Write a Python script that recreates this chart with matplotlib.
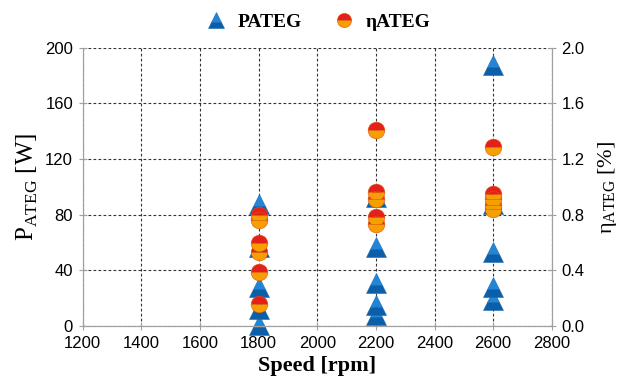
import matplotlib.pyplot as plt

# speed [rpm] and measured values
speed_p = [1800] * 5 + [2200] * 5 + [2600] * 5
p_ateg = [88, 57, 28, 12, 1,
          93, 57, 31, 15, 8,
          188, 88, 53, 28, 19]
speed_eta = [1800] * 6 + [2200] * 5 + [2600] * 5
eta_ateg = [0.80, 0.76, 0.60, 0.53, 0.39, 0.16,
            1.41, 0.96, 0.91, 0.78, 0.73,
            1.29, 0.95, 0.91, 0.87, 0.84]

x_ticks = [1200, 1400, 1600, 1800, 2000, 2200, 2400, 2600, 2800]
p_ticks = [0, 40, 80, 120, 160, 200]
eta_ticks = [0.0, 0.4, 0.8, 1.2, 1.6, 2.0]

serif = "Liberation Serif"
sans = "Liberation Sans"

fig = plt.figure(figsize=(6.27, 3.83), dpi=100)
ax = fig.add_axes([0.132, 0.149, 0.748, 0.726])
ax2 = ax.twinx()

tri = ax.plot(speed_p, p_ateg, ls="none", marker="^", ms=14,
              mfc="#2186d8", mfcalt="#0b5ea8", fillstyle="top",
              mec="#1a6cb5", mew=0.4, clip_on=False, zorder=3)[0]
circ = ax2.plot(speed_eta, eta_ateg, ls="none", marker="o", ms=12,
                mfc="#e3201a", mfcalt="#f5a000", fillstyle="top",
                mec="#e05010", mew=0.4, clip_on=False, zorder=4)[0]

ax.set_xlim(1200, 2800)
ax.set_ylim(0, 200)
ax2.set_ylim(0, 2.0)
ax.set_xticks(x_ticks)
ax.set_yticks(p_ticks)
ax2.set_yticks(eta_ticks)
ax2.set_yticklabels([f"{v:.1f}" for v in eta_ticks])

ax.grid(True, ls=(0, (2.5, 2)), color="#333333", lw=0.8)
for a in (ax, ax2):
    for s in a.spines.values():
        s.set_color("#a0a0a0")
    a.spines["top"].set_visible(False)
    a.tick_params(direction="inout", length=6, color="#a0a0a0", labelsize=12,
                  pad=4)
    for lab in a.get_xticklabels() + a.get_yticklabels():
        lab.set_fontfamily(sans)
ax.set_zorder(ax2.get_zorder() - 1)
ax.patch.set_visible(True)
ax2.patch.set_visible(False)
ax.set_axisbelow(True)

ax.set_xlabel("Speed [rpm]", fontfamily=serif, fontsize=16, fontweight="bold",
              labelpad=4)
ax.set_ylabel(r"P$_{\mathregular{ATEG}}$ [W]", fontfamily=serif, fontsize=18,
              labelpad=4)
ax2.set_ylabel(r"$\mathregular{\eta}_{\mathregular{ATEG}}$ [%]", fontfamily=serif,
               fontsize=16, rotation=90, labelpad=8)

fig.legend([tri, circ], ["PATEG", "\u03b7ATEG"], loc="upper center",
           bbox_to_anchor=(0.5, 1.01), ncol=2, frameon=False, handletextpad=0.1,
           columnspacing=1.2, prop={"family": serif, "weight": "bold", "size": 14},
           markerscale=0.85)

fig.savefig("out.png", dpi=100)
